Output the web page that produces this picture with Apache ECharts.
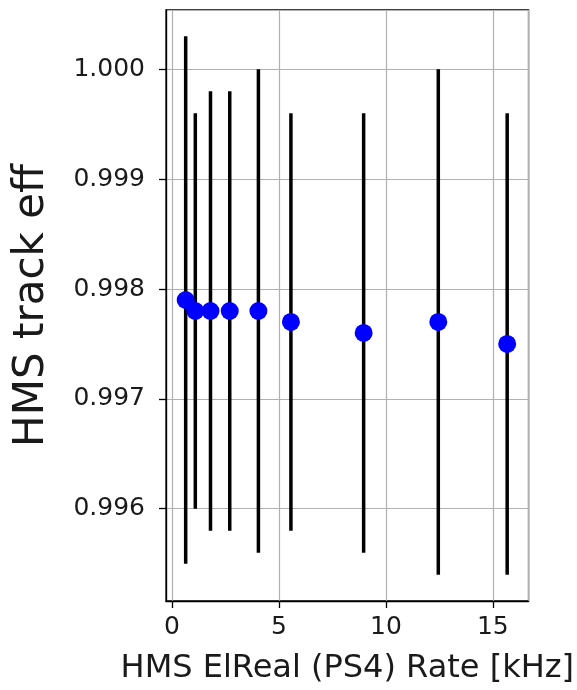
<!DOCTYPE html>
<html>
<head>
<meta charset="utf-8">
<script src="https://cdn.jsdelivr.net/npm/echarts@6/dist/echarts.min.js"></script>
<style>
html,body{margin:0;padding:0;background:#fff;}
#chart{width:577px;height:690px;}
</style>
</head>
<body>
<div id="chart"></div>
<script>
// Data
var rates = [0.64, 1.09, 1.80, 2.70, 4.04, 5.56, 8.96, 12.45, 15.67];
var eff   = [0.9979, 0.9978, 0.9978, 0.9978, 0.9978, 0.9977, 0.9976, 0.9977, 0.9975];
var effLow  = [0.9955, 0.9960, 0.9958, 0.9958, 0.9956, 0.9958, 0.9956, 0.9954, 0.9954];
var effHigh = [1.0003, 0.9996, 0.9998, 0.9998, 1.0000, 0.9996, 0.9996, 1.0000, 0.9996];
var xTicks = [0, 5, 10, 15];
var yTicks = [0.996, 0.997, 0.998, 0.999, 1.000];

var FONT = 'DejaVu Sans';
var chart = echarts.init(document.getElementById('chart'), null, {renderer: 'canvas'});

function isTick(v, list) {
  for (var i = 0; i < list.length; i++) if (Math.abs(v - list[i]) < 1e-7) return true;
  return false;
}

var errData = rates.map(function (x, i) { return [x, effLow[i], effHigh[i]]; });
var ptData = rates.map(function (x, i) { return [x, eff[i]]; });

chart.setOption({
  animation: false,
  backgroundColor: '#fff',
  grid: {left: 166, right: 47, top: 10, bottom: 89, show: true, borderColor: '#000', borderWidth: 1.3, backgroundColor: 'transparent'},
  xAxis: {
    type: 'value', min: -0.28, max: 16.67, splitNumber: 4,
    name: 'HMS ElReal (PS4) Rate [kHz]', nameLocation: 'middle', nameGap: 52,
    nameTextStyle: {fontFamily: FONT, fontSize: 32, color: '#1a1a1a'},
    axisLine: {show: true, onZero: false, lineStyle: {color: '#000', width: 1.3}},
    axisTick: {show: true, length: 7, lineStyle: {color: '#000', width: 1.3}},
    axisLabel: {show: true, margin: 14, fontFamily: FONT, fontSize: 25, color: '#1a1a1a',
      showMinLabel: false, showMaxLabel: false,
      formatter: function (v) { return isTick(v, xTicks) ? String(v) : ''; }},
    splitLine: {show: true, lineStyle: {color: '#b0b0b0', width: 1.2}}
  },
  yAxis: {
    type: 'value', min: 0.99516, max: 1.00054, splitNumber: 5, scale: true,
    name: 'HMS track eff', nameLocation: 'middle', nameGap: 113,
    nameTextStyle: {fontFamily: FONT, fontSize: 42, color: '#1a1a1a'},
    axisLine: {show: true, onZero: false, lineStyle: {color: '#000', width: 1.3}},
    axisTick: {show: true, length: 7, lineStyle: {color: '#000', width: 1.3}},
    axisLabel: {show: true, margin: 21, fontFamily: FONT, fontSize: 25, color: '#1a1a1a',
      showMinLabel: false, showMaxLabel: false,
      formatter: function (v) { return isTick(v, yTicks) ? v.toFixed(3) : ''; }},
    splitLine: {show: true, lineStyle: {color: '#b0b0b0', width: 1.2}}
  },
  series: [
    {
      type: 'custom',
      data: errData,
      encode: {x: 0, y: [1, 2]},
      renderItem: function (params, api) {
        var p1 = api.coord([api.value(0), api.value(1)]);
        var p2 = api.coord([api.value(0), api.value(2)]);
        return {
          type: 'line',
          shape: {x1: p1[0], y1: p1[1], x2: p2[0], y2: p2[1]},
          style: {stroke: '#000', lineWidth: 3.5}
        };
      },
      z: 2
    },
    {
      type: 'scatter',
      data: ptData,
      symbol: 'circle',
      symbolSize: 18,
      itemStyle: {color: '#0000ff', opacity: 1},
      z: 3
    }
  ]
});
</script>
</body>
</html>
